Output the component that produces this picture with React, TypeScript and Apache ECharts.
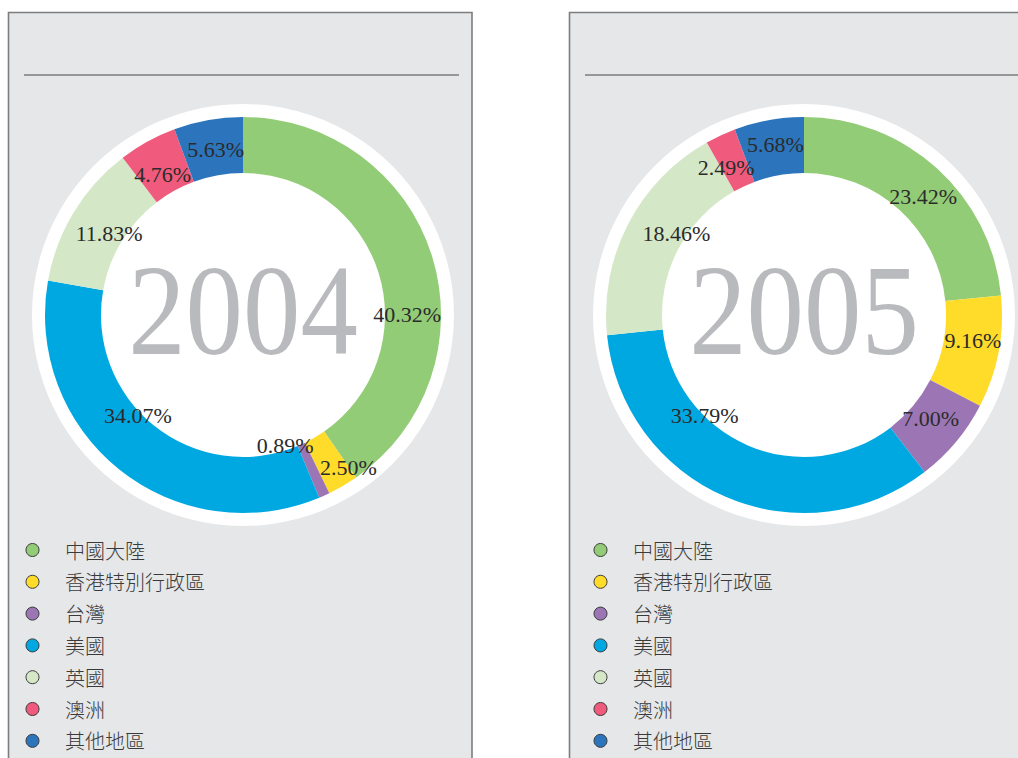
import React, { useEffect, useRef } from "react";
import * as echarts from "echarts";

const categories = ["中國大陸", "香港特別行政區", "台灣", "美國", "英國", "澳洲", "其他地區"];
const values2004 = [40.32, 2.5, 0.89, 34.07, 11.83, 4.76, 5.63];
const values2005 = [23.42, 9.16, 7.0, 33.79, 18.46, 2.49, 5.68];
const years = ["2004", "2005"];

const colors = ["#93cc77", "#ffdb2a", "#9c76b4", "#00a8e1", "#d4e8c8", "#f05b7d", "#2c75bc"];

// label nudges (style only) relative to the default "inside" placement
const labelNudge2004 = [[-1, 51], [18, 3], [-29, -27], [3, -35], [14, 8], [3, 11], [3, 5]];
const labelNudge2005 = [[3, 10], [-1, -7], [-6, -7], [-31, -58], [26, -2], [-5, 9], [2, 0]];

const SERIF = "'Liberation Serif', 'DejaVu Serif', serif";
const CJK = "'Noto Sans CJK TC', 'Noto Sans CJK SC', sans-serif";

export default function App() {
  const ref = useRef<HTMLDivElement>(null);

  useEffect(() => {
    if (!ref.current) return;
    const chart = echarts.init(ref.current, undefined, { renderer: "svg" });

    const centers = [[243, 315], [804, 315]];
    const datasets = [values2004, values2005];
    const nudges = [labelNudge2004, labelNudge2005];

    const series: any[] = [];
    datasets.forEach((vals, k) => {
      series.push({
        type: "pie",
        name: "bg" + k,
        silent: true,
        legendHoverLink: false,
        center: centers[k],
        radius: [0, 211],
        z: 1,
        label: { show: false },
        labelLine: { show: false },
        itemStyle: { color: "#ffffff" },
        data: [{ value: 1, name: "bg" + k }],
      });
      series.push({
        type: "pie",
        name: years[k],
        center: centers[k],
        radius: [142, 198],
        startAngle: 90,
        clockwise: true,
        avoidLabelOverlap: false,
        silent: true,
        z: 2,
        label: {
          show: true,
          position: "inside",
          formatter: (p: any) => p.value.toFixed(2) + "%",
          fontFamily: SERIF,
          fontSize: 22,
          color: "#2b2b2b",
        },
        labelLine: { show: false },
        data: vals.map((v, i) => ({
          value: v,
          name: categories[i],
          itemStyle: { color: colors[i] },
          label: { offset: nudges[k][i] },
        })),
      });
    });

    const legendBase = {
      orient: "vertical",
      top: 540,
      padding: 0,
      icon: "circle",
      itemWidth: 13,
      itemHeight: 13,
      itemGap: 11.8,
      selectedMode: false,
      data: categories,
      itemStyle: { borderColor: "#3a3a3a", borderWidth: 1 },
      textStyle: {
        fontFamily: CJK,
        fontSize: 20,
        fontWeight: 300,
        lineHeight: 20,
        color: "#3a3a3a",
        padding: [0, 0, 0, 21],
      },
    };

    chart.setOption({
      animation: false,
      backgroundColor: "#ffffff",
      legend: [
        { ...legendBase, left: 25.5 },
        { ...legendBase, left: 593.5 },
      ],
      graphic: [
        {
          type: "rect",
          z: -10,
          shape: { x: 8.5, y: 12.5, width: 463.5, height: 800 },
          style: { fill: "#e6e7e9", stroke: "#7d7d7d", lineWidth: 1.6 },
        },
        {
          type: "rect",
          z: -10,
          shape: { x: 569.5, y: 12.5, width: 500, height: 800 },
          style: { fill: "#e6e7e9", stroke: "#7d7d7d", lineWidth: 1.6 },
        },
        {
          type: "line",
          z: -5,
          shape: { x1: 24, y1: 75, x2: 459, y2: 75 },
          style: { stroke: "#7d7d7d", lineWidth: 1.5 },
        },
        {
          type: "line",
          z: -5,
          shape: { x1: 585, y1: 75, x2: 1030, y2: 75 },
          style: { stroke: "#7d7d7d", lineWidth: 1.5 },
        },
        {
          type: "text",
          z: 100,
          x: 243,
          y: 310,
          scaleX: 0.89,
          style: {
            text: years[0],
            fontFamily: SERIF,
            fontSize: 129,
            fill: "#b9babd",
            align: "center",
            verticalAlign: "middle",
          },
        },
        {
          type: "text",
          z: 100,
          x: 804,
          y: 310,
          scaleX: 0.89,
          style: {
            text: years[1],
            fontFamily: SERIF,
            fontSize: 129,
            fill: "#b9babd",
            align: "center",
            verticalAlign: "middle",
          },
        },
      ],
      series,
    });

    return () => chart.dispose();
  }, []);

  return (
    <div
      ref={ref}
      style={{ position: "absolute", left: 0, top: 0, width: 1018, height: 758 }}
    />
  );
}
